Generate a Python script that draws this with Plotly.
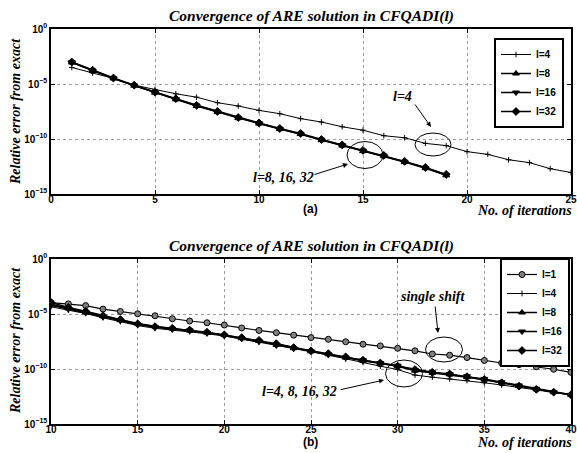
import plotly.graph_objects as go

W, H = 577, 453

# ---------------- data (a) ----------------
iter_a_l4 = list(range(1, 26))
err_a_l4 = [3.2e-4, 1.0e-4, 3.2e-5, 7.9e-6, 3.2e-6, 1.3e-6, 6.3e-7, 2.0e-7, 1.0e-7, 4.0e-8,
            2.0e-8, 7.1e-9, 3.5e-9, 1.3e-9, 6.3e-10, 2.0e-10, 1.3e-10, 4.0e-11, 2.5e-11, 7.1e-12,
            4.0e-12, 1.3e-12, 7.1e-13, 2.0e-13, 8.9e-14]
iter_a = list(range(1, 20))
err_a_l8 = [8.9e-4, 1.6e-4, 3.2e-5, 7.1e-6, 1.6e-6, 4.0e-7, 1.0e-7, 2.8e-8, 7.9e-9, 2.5e-9,
            7.9e-10, 2.8e-10, 7.9e-11, 2.5e-11, 7.9e-12, 2.8e-12, 7.9e-13, 2.2e-13, 5.0e-14]
err_a_l16 = [9.5e-4, 1.7e-4, 3.3e-5, 7.4e-6, 1.7e-6, 4.3e-7, 1.1e-7, 3.0e-8, 8.5e-9, 2.7e-9,
             8.5e-10, 3.0e-10, 8.5e-11, 2.7e-11, 8.5e-12, 3.0e-12, 8.5e-13, 2.4e-13, 5.5e-14]
err_a_l32 = [1.0e-3, 1.8e-4, 3.5e-5, 7.8e-6, 1.8e-6, 4.6e-7, 1.15e-7, 3.2e-8, 9.0e-9, 2.9e-9,
             9.0e-10, 3.2e-10, 9.0e-11, 2.9e-11, 9.2e-12, 3.2e-12, 9.2e-13, 2.6e-13, 6.0e-14]

# ---------------- data (b) ----------------
iter_b = list(range(10, 41))
err_b_l1 = [1.1e-4, 8.3e-5, 5.8e-5, 2.8e-5, 1.7e-5, 1.05e-5, 6.9e-6, 3.7e-6, 2.3e-6, 1.6e-6,
            1.0e-6, 5.4e-7, 3.2e-7, 2.0e-7, 1.2e-7, 7.2e-8, 5.0e-8, 3.0e-8, 1.8e-8, 1.26e-8,
            7.6e-9, 4.5e-9, 2.3e-9, 1.8e-9, 1.1e-9, 6.0e-10, 3.5e-10, 2.5e-10, 1.6e-10, 9.5e-11,
            5.0e-11]
err_b_l4 = [4.5e-5, 2.2e-5, 1.1e-5, 4.5e-6, 2.0e-6, 8.9e-7, 5.0e-7, 3.5e-7, 2.5e-7, 1.6e-7,
            1.0e-7, 5.0e-8, 2.8e-8, 2.0e-8, 1.0e-8, 4.0e-9, 1.8e-9, 7.9e-10, 4.0e-10, 1.8e-10,
            8.9e-11, 2.8e-11, 1.8e-11, 1.26e-11, 8.9e-12, 5.6e-12, 3.5e-12, 2.2e-12, 1.26e-12, 7.1e-13,
            4.5e-13]
err_b_l8 = [7.9e-5, 3.5e-5, 1.4e-5, 6.3e-6, 2.8e-6, 1.4e-6, 7.9e-7, 5.0e-7, 3.2e-7, 2.0e-7,
            1.26e-7, 6.3e-8, 3.5e-8, 1.6e-8, 7.9e-9, 4.0e-9, 2.2e-9, 1.1e-9, 5.6e-10, 3.2e-10,
            1.8e-10, 7.1e-11, 4.5e-11, 3.2e-11, 1.8e-11, 1.1e-11, 5.6e-12, 2.8e-12, 1.4e-12, 7.9e-13,
            4.5e-13]
err_b_l16 = [6.3e-5, 2.8e-5, 1.26e-5, 5.6e-6, 2.5e-6, 1.1e-6, 6.3e-7, 4.5e-7, 3.2e-7, 2.0e-7,
             1.1e-7, 5.6e-8, 3.2e-8, 1.4e-8, 7.1e-9, 4.0e-9, 2.0e-9, 1.1e-9, 6.3e-10, 3.5e-10,
             2.0e-10, 7.9e-11, 5.0e-11, 3.5e-11, 2.2e-11, 1.26e-11, 6.3e-12, 3.2e-12, 1.6e-12, 7.9e-13,
             4.5e-13]
err_b_l32 = [1.1e-4, 4.0e-5, 1.8e-5, 7.1e-6, 3.2e-6, 1.26e-6, 7.1e-7, 5.0e-7, 3.5e-7, 2.2e-7,
             1.26e-7, 7.1e-8, 4.0e-8, 2.0e-8, 8.9e-9, 4.5e-9, 2.5e-9, 1.26e-9, 6.3e-10, 3.5e-10,
             1.8e-10, 8.9e-11, 5.0e-11, 3.5e-11, 2.0e-11, 1.1e-11, 5.6e-12, 2.8e-12, 1.4e-12, 7.9e-13,
             4.5e-13]

ytick_vals = [1e-15, 1e-10, 1e-5, 1]
ytick_text = ["10<sup>−15</sup>", "10<sup>−10</sup>", "10<sup>−5</sup>", "10<sup>0</sup>"]
title_text = "Convergence of ARE solution in CFQADI(l)"
ylabel_text = "Relative error from exact"
xlabel_text = "No. of iterations"


def px(x):
    return x / W


def py(y):
    return 1 - y / H


SERIF = "Liberation Serif"
SANS = "Liberation Sans"

fig = go.Figure()

def add(x, y, name, symbol, size, lw, xa, ya, leg, mfill="black", mline=1):
    fig.add_trace(go.Scatter(
        x=x, y=y, name=name, mode="lines+markers",
        line=dict(color="black", width=lw),
        marker=dict(symbol=symbol, size=size, color=mfill,
                    line=dict(color="black", width=mline)),
        xaxis=xa, yaxis=ya, legend=leg))

# (a)
add(iter_a_l4, err_a_l4, "l=4", "cross-thin", 4, 1, "x", "y", "legend")
add(iter_a, err_a_l8, "l=8", "triangle-up", 6, 1.5, "x", "y", "legend")
add(iter_a, err_a_l16, "l=16", "triangle-down", 6, 1.5, "x", "y", "legend")
add(iter_a, err_a_l32, "l=32", "diamond", 6, 1.5, "x", "y", "legend")
# (b)
add(iter_b, err_b_l1, "l=1", "circle", 6, 1.2, "x2", "y2", "legend2", mfill="#808080")
add(iter_b, err_b_l4, "l=4", "cross-thin", 4, 1, "x2", "y2", "legend2")
add(iter_b, err_b_l8, "l=8", "triangle-up", 6, 1.5, "x2", "y2", "legend2")
add(iter_b, err_b_l16, "l=16", "triangle-down", 6, 1.5, "x2", "y2", "legend2")
add(iter_b, err_b_l32, "l=32", "diamond", 6, 1.5, "x2", "y2", "legend2")

tickfont = dict(family=SANS, size=10, color="black", weight="bold")
axis_common = dict(showline=True, linecolor="black", linewidth=1.6, mirror="ticks",
                   ticks="inside", ticklen=4, tickcolor="black", tickwidth=1,
                   showgrid=True, gridcolor="#9a9a9a", griddash="dot", gridwidth=1,
                   zeroline=False, tickfont=tickfont, automargin=False)
xaxis_extra = dict(ticklabelstandoff=-5)

xdom = [px(51), px(571)]
legfont = dict(family=SANS, size=10, color="black", weight="bold")
fig.update_layout(
    width=W, height=H, margin=dict(l=0, r=0, t=0, b=0, autoexpand=False),
    paper_bgcolor="white", plot_bgcolor="white",
    xaxis=dict(domain=xdom, anchor="y", range=[0, 25], dtick=5, tick0=0,
               **axis_common, **xaxis_extra),
    yaxis=dict(domain=[py(194), py(29)], anchor="x", type="log", range=[-15, 0],
               tickvals=ytick_vals, ticktext=ytick_text, **axis_common),
    xaxis2=dict(domain=xdom, anchor="y2", range=[10, 40], dtick=5, tick0=10,
                **axis_common, **xaxis_extra),
    yaxis2=dict(domain=[py(424), py(259)], anchor="x2", type="log", range=[-15, 0],
                tickvals=ytick_vals, ticktext=ytick_text, **axis_common),
    legend=dict(x=px(494), y=py(38), xanchor="left", yanchor="top",
                bgcolor="white", bordercolor="black", borderwidth=2,
                font=legfont, tracegroupgap=0),
    legend2=dict(x=px(500), y=py(258), xanchor="left", yanchor="top",
                 bgcolor="white", bordercolor="black", borderwidth=2,
                 font=legfont, tracegroupgap=0),
    showlegend=True,
)

serif_bi = lambda s: dict(family=SERIF, size=s, color="black", weight="bold", style="italic")


def text_ann(x, y, text, font, xanchor="center", angle=0):
    return dict(x=px(x), y=py(y), text=text, showarrow=False, xref="paper", yref="paper",
                xanchor=xanchor, yanchor="middle", textangle=angle, font=font)


def arrow_ann(hx, hy, tx, ty):
    return dict(x=px(hx), y=py(hy), ax=tx - hx, ay=ty - hy, text="", showarrow=True,
                arrowhead=2, arrowsize=1, arrowwidth=1, arrowcolor="black",
                xref="paper", yref="paper")


ann = []
for ty, ly, lx_y, sub_y, sub in [(16, 112, 211, 209, "(a)"), (246, 341, 442, 442, "(b)")]:
    ann.append(text_ann(311, ty, title_text, serif_bi(15.5)))
    ann.append(text_ann(15, ly, ylabel_text, serif_bi(14), angle=-90))
    ann.append(text_ann(574, lx_y, xlabel_text, serif_bi(14), xanchor="right"))
    ann.append(text_ann(310, sub_y, sub, dict(family=SANS, size=12, color="black", weight="bold")))

# callouts
ann.append(text_ann(402, 97, "l=4", serif_bi(14)))
ann.append(arrow_ann(431, 127, 414, 103))
ann.append(text_ann(283, 177, "l=8, 16, 32", serif_bi(14)))
ann.append(arrow_ann(348, 164, 313, 175))
ann.append(text_ann(433, 296, "single shift", serif_bi(14)))
ann.append(arrow_ann(438, 333, 435, 305))
ann.append(text_ann(299, 391, "l=4, 8, 16, 32", serif_bi(14)))
ann.append(arrow_ann(384, 380, 339, 390))
fig.update_layout(annotations=ann)

shapes = []
for (cx, cy, rx, ry) in [(433, 144.5, 18, 11.5), (365, 155, 18, 13.5),
                         (444, 349.5, 18.5, 12.5), (404, 373.5, 18.5, 13.5)]:
    shapes.append(dict(type="circle", xref="paper", yref="paper",
                       x0=px(cx - rx), x1=px(cx + rx), y0=py(cy + ry), y1=py(cy - ry),
                       line=dict(color="black", width=1)))
fig.update_layout(shapes=shapes)

fig.write_html("out.html", config={"displayModeBar": False},
               post_script="document.body.style.margin='0px';")
